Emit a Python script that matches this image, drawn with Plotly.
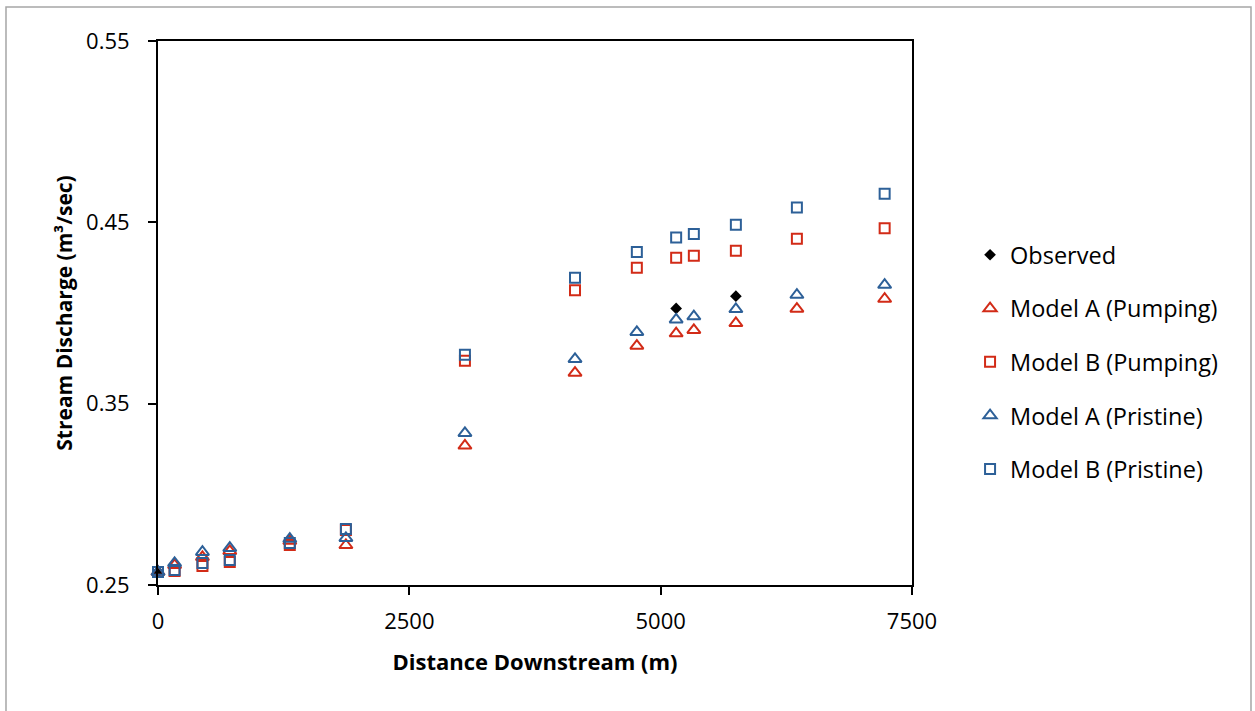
import plotly.graph_objects as go

# Distance of each gauging point downstream (m)
distance_m = [0, 165, 442, 714, 1311, 1869, 3053, 4148, 4763, 5154, 5330, 5748, 6355, 7228]

# Observed discharge (m3/sec) at the three gauged sites
observed_x = [0, 5154, 5748]
observed_q = [0.2572, 0.4025, 0.4093]

# Simulated discharge (m3/sec)
model_a_pumping = [0.2572, 0.2610, 0.2654, 0.2687, 0.2743, 0.2720, 0.3268, 0.3670,
                   0.3819, 0.3887, 0.3906, 0.3944, 0.4023, 0.4078]
model_b_pumping = [0.2572, 0.2577, 0.2605, 0.2627, 0.2720, 0.2803, 0.3736, 0.4126,
                   0.4249, 0.4304, 0.4316, 0.4343, 0.4409, 0.4468]
model_a_pristine = [0.2572, 0.2621, 0.2682, 0.2704, 0.2754, 0.2759, 0.3338, 0.3746,
                    0.3895, 0.3964, 0.3981, 0.4021, 0.4100, 0.4155]
model_b_pristine = [0.2572, 0.2583, 0.2621, 0.2638, 0.2731, 0.2809, 0.3770, 0.4194,
                    0.4337, 0.4417, 0.4436, 0.4486, 0.4582, 0.4657]

x_ticks = [0, 2500, 5000, 7500]
y_ticks = [0.25, 0.35, 0.45, 0.55]

RED = "#D22B17"
BLUE = "#2D6098"
FONT = "Open Sans"

fig = go.Figure()

fig.add_trace(go.Scatter(
    x=observed_x, y=observed_q, mode="markers", name="Observed",
    legendgroup="g0", cliponaxis=False,
    marker=dict(symbol="diamond", size=9, color="black"),
))

series = [
    ("Model A (Pumping)", model_a_pumping, "triangle-up-open", RED, 11.5),
    ("Model B (Pumping)", model_b_pumping, "square-open", RED, 10),
    ("Model A (Pristine)", model_a_pristine, "triangle-up-open", BLUE, 11.5),
    ("Model B (Pristine)", model_b_pristine, "square-open", BLUE, 10),
]
for i, (name, q, symbol, color, size) in enumerate(series, start=1):
    fig.add_trace(go.Scatter(
        x=distance_m, y=q, mode="markers", name=name,
        legendgroup=f"g{i}", cliponaxis=False,
        marker=dict(symbol=symbol, size=size, color=color,
                    line=dict(color=color, width=2)),
    ))

axis_common = dict(
    showline=True, linecolor="black", linewidth=2, mirror=True,
    ticks="outside", ticklen=8, tickwidth=1.5, tickcolor="black",
    showgrid=False, zeroline=False,
    tickfont=dict(family=FONT, size=22, color="black"),
)

fig.update_xaxes(
    range=[0, 7500], tickvals=x_ticks, ticktext=[str(v) for v in x_ticks],
    ticklabelstandoff=8,
    title=dict(text="<b>Distance Downstream (m)</b>", standoff=20,
               font=dict(family=FONT, size=22, color="black")),
    **axis_common,
)
fig.update_yaxes(
    range=[0.25, 0.55], tickvals=y_ticks, ticktext=[f"{v:.2f}" for v in y_ticks],
    ticklabelstandoff=14,
    title=dict(text="<b>Stream Discharge (m³/sec)</b>", standoff=8,
               font=dict(family=FONT, size=21, color="black")),
    **axis_common,
)

# Outer chart frame
fig.add_shape(type="rect", xref="paper", yref="paper",
              x0=-0.2016, x1=1.4496, y0=-0.25, y1=1.0624,
              line=dict(color="#A6A6A6", width=1.5), layer="below")

fig.update_layout(
    width=1255, height=711,
    margin=dict(l=158, r=343, t=41, b=126),
    paper_bgcolor="white", plot_bgcolor="white",
    font=dict(family=FONT, color="black"),
    legend=dict(
        x=1.077, xanchor="left", y=0.41, yanchor="middle",
        traceorder="grouped", tracegroupgap=20,
        font=dict(family=FONT, size=23.5, color="black"),
        bgcolor="rgba(0,0,0,0)",
    ),
)

fig.write_html("out.html")
